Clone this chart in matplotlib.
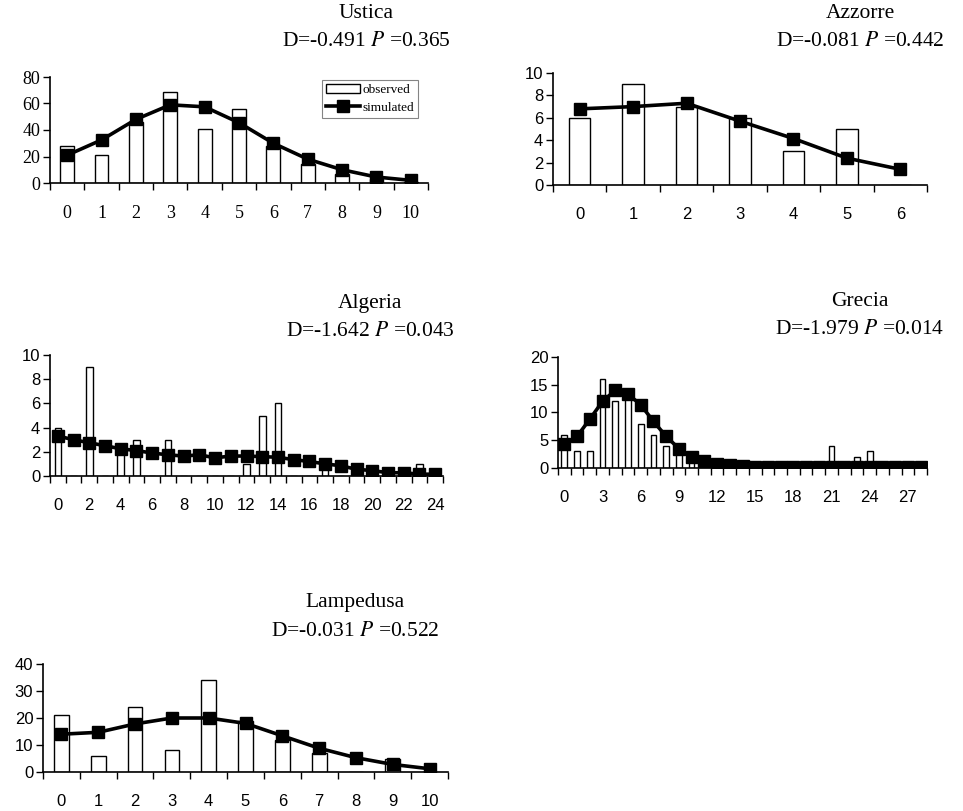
import numpy as np
import matplotlib
matplotlib.use('Agg')
import matplotlib.pyplot as plt

plt.rcParams['mathtext.fontset'] = 'stix'

W, H = 963, 811

# observed / simulated frequencies per island
ustica_obs = [28, 21, 46, 69, 41, 56, 28, 14, 7, 3, 1]
ustica_sim = [21, 32.5, 48, 59, 57.5, 45.5, 30, 18, 10, 4.5, 2]

azzorre_obs = [6, 9, 7, 6, 3, 5, 0]
azzorre_sim = [6.8, 7.0, 7.3, 5.7, 4.15, 2.4, 1.4]

algeria_obs = [4, 0, 9, 0, 2, 3, 0, 3, 0, 0, 0, 0, 1, 5, 6, 0, 0, 1, 0, 1, 0, 0, 0, 1, 0]
algeria_sim = [3.3, 3.0, 2.75, 2.5, 2.25, 2.1, 1.9, 1.75, 1.65, 1.75, 1.5, 1.65, 1.65,
               1.6, 1.55, 1.35, 1.2, 1.0, 0.85, 0.55, 0.45, 0.27, 0.27, 0.15, 0.15]

grecia_obs = [6, 3, 3, 16, 12, 13, 8, 6, 4, 3, 1.5, 1, 0, 0, 0, 0, 0, 0, 0, 0, 0,
              4, 1, 2, 3, 1, 1, 1, 0]
grecia_sim = [4.3, 5.7, 8.8, 12, 14, 13.3, 11.4, 8.4, 5.7, 3.5, 1.9, 1.3, 0.8, 0.5,
              0.4, 0.25, 0.2, 0.15, 0.1, 0.1, 0.1, 0.1, 0.1, 0.1, 0.1, 0.1, 0.1, 0.1, 0.1]

lampedusa_obs = [21, 6, 24, 8, 34, 19, 12, 7, 0, 5, 0]
lampedusa_sim = [14, 14.7, 17.8, 20, 20, 18, 13.4, 8.8, 5.3, 2.8, 1.2]

fig = plt.figure(figsize=(W / 100, H / 100), dpi=100)


def panel(box, obs, sim, ymax, ystep, xstep, name, stat, title_x, title_y,
          tickfont, width=0.4, ms=9):
    left, top, right, bottom = box
    ax = fig.add_axes([left / W, 1 - bottom / H, (right - left) / W, (bottom - top) / H])
    x = np.arange(len(obs))
    ax.bar(x, obs, width=width, color='white', edgecolor='black', linewidth=1.0,
           label='observed', zorder=2)
    ax.plot(x, sim, color='black', lw=2.6, marker='s', ms=ms, label='simulated', zorder=3)
    ax.set_xlim(-0.5, len(obs) - 0.5)
    ax.set_ylim(0, ymax)
    ax.set_yticks(np.arange(0, ymax + 0.1, ystep))
    ax.set_xticks(np.arange(-0.5, len(obs), 1.0))
    ax.set_xticklabels([])
    ax.set_xticks(x[::xstep], minor=True)
    ax.set_xticklabels([str(v) for v in x[::xstep]], minor=True)
    ax.tick_params(axis='x', which='major', direction='out', length=5, width=1)
    ax.tick_params(axis='x', which='minor', length=0, pad=16)
    ax.tick_params(axis='y', direction='out', length=5, width=1, pad=2)
    for s in ['top', 'right']:
        ax.spines[s].set_visible(False)
    for s in ['left', 'bottom']:
        ax.spines[s].set_linewidth(1.2)
    for lab in ax.get_xticklabels(minor=True) + ax.get_yticklabels():
        lab.set_fontfamily(tickfont)
        lab.set_fontsize(13 if tickfont == 'Liberation Serif' else 12)
    fig.text(title_x / W, 1 - title_y / H, name, ha='center', va='center',
             family='Liberation Serif', fontsize=15.5)
    fig.text(title_x / W, 1 - (title_y + 29) / H, stat, ha='center', va='center',
             family='Liberation Serif', fontsize=15.5)
    return ax


ax1 = panel((50, 77, 428, 183), ustica_obs, ustica_sim, 80, 20, 1, 'Ustica',
            r'D=-0.491 $P$ =0.365', 366, 13, 'Liberation Serif')
handles, labels = ax1.get_legend_handles_labels()
order = [labels.index('observed'), labels.index('simulated')]
leg = ax1.legend([handles[i] for i in order], [labels[i] for i in order],
                 loc='upper left', bbox_to_anchor=(322 / W, 1 - 80 / H),
                 bbox_transform=fig.transFigure, prop={'family': 'Liberation Serif', 'size': 9.5},
                 frameon=True, fancybox=False, handlelength=2.6, handletextpad=0.2,
                 borderpad=0.3, labelspacing=0.4, borderaxespad=0)
leg.get_frame().set_edgecolor('#666666')
leg.get_frame().set_linewidth(0.8)

panel((553, 73, 927, 185), azzorre_obs, azzorre_sim, 10, 2, 1, 'Azzorre',
      r'D=-0.081 $P$ =0.442', 860, 13, 'Liberation Sans')
panel((50, 355, 443, 476), algeria_obs, algeria_sim, 10, 2, 2, 'Algeria',
      r'D=-1.642 $P$ =0.043', 370, 303, 'Liberation Sans', width=0.42, ms=8)
panel((558, 357, 927, 468), grecia_obs, grecia_sim, 20, 5, 3, 'Grecia',
      r'D=-1.979 $P$ =0.014', 860, 301, 'Liberation Sans', width=0.45, ms=8)
panel((43, 664, 448, 772), lampedusa_obs, lampedusa_sim, 40, 10, 1, 'Lampedusa',
      r'D=-0.031 $P$ =0.522', 355, 602, 'Liberation Sans')

plt.savefig('out.png', dpi=100)
